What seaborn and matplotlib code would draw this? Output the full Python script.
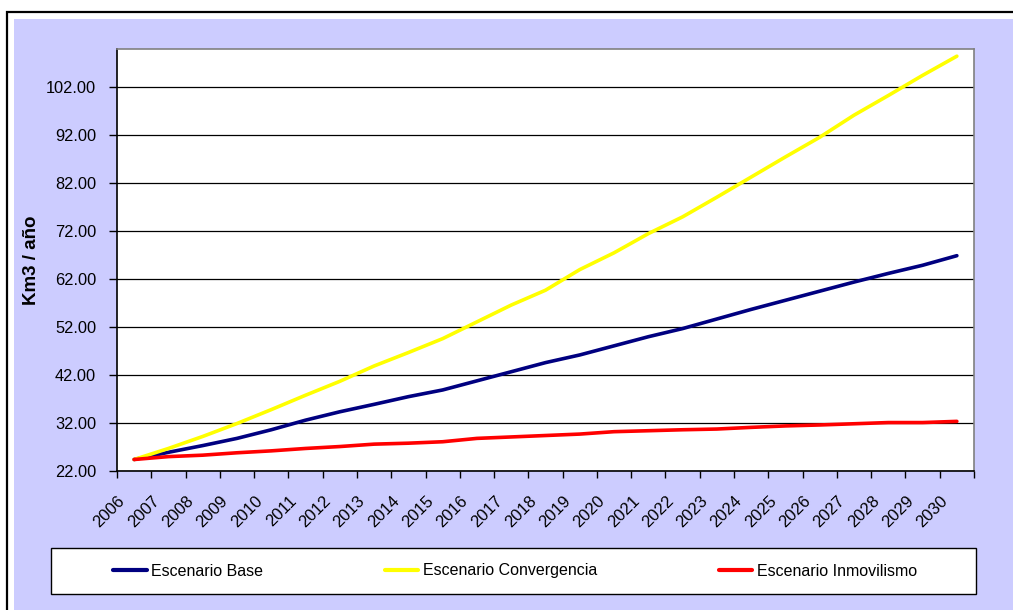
import numpy as np
import pandas as pd
import matplotlib
matplotlib.use("Agg")
import matplotlib.pyplot as plt
from matplotlib.patches import Rectangle
import seaborn as sns

# Annual volume per scenario (Km3 / año)
years = list(range(2006, 2031))
base = [24.4, 25.9, 27.3, 28.8, 30.6, 32.6, 34.35, 35.9, 37.5, 38.9, 40.8, 42.7, 44.6,
        46.2, 48.1, 50.0, 51.7, 53.7, 55.7, 57.6, 59.5, 61.4, 63.2, 64.9, 66.9]
convergencia = [24.4, 26.7, 29.2, 31.9, 34.8, 37.8, 40.7, 43.9, 46.7, 49.6, 53.1, 56.6, 59.7,
                64.0, 67.5, 71.5, 75.0, 79.1, 83.3, 87.5, 91.6, 96.2, 100.3, 104.5, 108.5]
inmovilismo = [24.4, 25.0, 25.3, 25.8, 26.2, 26.7, 27.1, 27.6, 27.8, 28.1, 28.8, 29.1, 29.4,
               29.7, 30.2, 30.4, 30.6, 30.75, 31.1, 31.4, 31.6, 31.85, 32.1, 32.1, 32.35]
series_names = ["Escenario Base", "Escenario Convergencia", "Escenario Inmovilismo"]
series_colors = ["#000080", "#FFFF00", "#FF0000"]
y_ticks = [22, 32, 42, 52, 62, 72, 82, 92, 102]
y_label = "Km3 / año"

sns.set_style("white")
plt.rcParams["font.family"] = ["Liberation Sans", "DejaVu Sans"]
for key in ["text.color", "axes.labelcolor", "xtick.color", "ytick.color"]:
    plt.rcParams[key] = "black"

W, H = 1013, 610
fig = plt.figure(figsize=(W / 100, H / 100), dpi=100, facecolor="white")


def fx(px):
    return px / W


def fy(py):
    return 1 - py / H


# chart area background and outer border
fig.patches.append(Rectangle((fx(14), -0.05), 1.1, fy(19) + 0.05, transform=fig.transFigure,
                             facecolor="#CCCCFF", edgecolor="none", zorder=-2))
fig.patches.append(Rectangle((fx(7), -0.1), 1.2, fy(12) + 0.1, transform=fig.transFigure,
                             facecolor="none", edgecolor="black", linewidth=1.6, zorder=-1))

ax = fig.add_axes([fx(117), fy(471), fx(974) - fx(117), fy(49) - fy(471)])
ax.set_zorder(1)
ax.set_facecolor("white")

n = len(years)
pos = np.arange(n) + 0.5
df = pd.concat([
    pd.DataFrame({"pos": pos, "valor": vals, "serie": name})
    for name, vals in zip(series_names, [base, convergencia, inmovilismo])
], ignore_index=True)

sns.lineplot(data=df, x="pos", y="valor", hue="serie", hue_order=series_names,
             palette=dict(zip(series_names, series_colors)), linewidth=2.6,
             sort=False, ax=ax, zorder=3)
handles, labels = ax.get_legend_handles_labels()
if ax.get_legend() is not None:
    ax.get_legend().remove()

ax.set_xlim(0, n)
ax.set_ylim(22, 110)
ax.set_xlabel("")
ax.set_ylabel("")

ax.set_yticks(y_ticks)
ax.set_yticklabels([f"{v:.2f}" for v in y_ticks])
ax.yaxis.grid(True, color="black", linewidth=0.9)
ax.xaxis.grid(False)
ax.set_axisbelow(True)

# category labels sit slightly left of the category centre, ticks mark boundaries
ax.set_xticks(pos - 0.335)
ax.set_xticklabels([str(y) for y in years], rotation=45, ha="right", va="center",
                   rotation_mode="anchor", fontsize=12)
ax.set_xticks(np.arange(n + 1), minor=True)
ax.tick_params(axis="x", which="major", length=0, pad=20, bottom=True)
ax.tick_params(axis="x", which="minor", length=5, width=1, color="black",
               direction="out", bottom=True)
ax.tick_params(axis="y", length=6, width=1, color="black", pad=9, labelsize=11.8,
               direction="out", left=True)

for side in ["left", "bottom"]:
    ax.spines[side].set_color("black")
    ax.spines[side].set_linewidth(1.2)
for side in ["top", "right"]:
    ax.spines[side].set_color("#808080")
    ax.spines[side].set_linewidth(1.2)

fig.text(fx(31), fy(260), y_label, rotation=90, fontweight="bold", fontsize=13.5,
         ha="center", va="center")

# legend box
fig.patches.append(Rectangle((fx(51), fy(594)), fx(976) - fx(51), fy(548) - fy(594),
                             transform=fig.transFigure, facecolor="white",
                             edgecolor="black", linewidth=1, zorder=2))
leg = fig.legend(handles, labels, loc="center left", bbox_to_anchor=(fx(113), fy(571)),
                 ncol=3, frameon=False, fontsize=11.5, handlelength=2.1,
                 handletextpad=0.3, columnspacing=7.6, borderpad=0, borderaxespad=0)
for line in leg.get_lines():
    line.set_linewidth(3)
leg.set_zorder(5)

fig.savefig("out.png", dpi=100)
